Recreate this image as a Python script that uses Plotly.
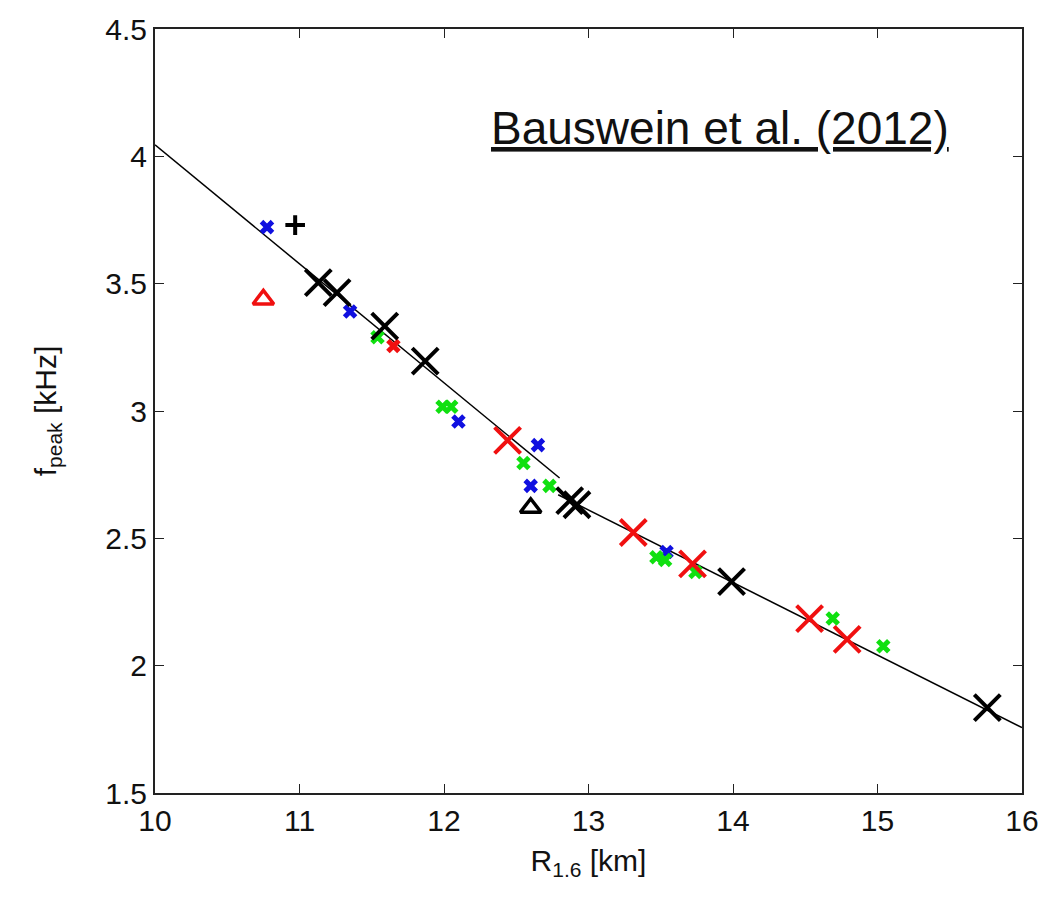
import plotly.graph_objects as go

# Fit lines (two segments)
fit1_x = [10.0, 12.80]
fit1_y = [4.045, 2.737]
fit2_x = [12.79, 16.0]
fit2_y = [2.671, 1.757]

# Large black crosses
blackX_x = [11.13, 11.26, 11.59, 11.87, 12.87, 12.92, 13.99, 15.76]
blackX_y = [3.504, 3.465, 3.333, 3.196, 2.648, 2.632, 2.330, 1.835]

# Large red crosses
redX_x = [12.44, 13.31, 13.72, 14.53, 14.79]
redX_y = [2.885, 2.523, 2.400, 2.185, 2.103]

# Small blue crosses
blue_x = [10.775, 11.35, 12.10, 12.65, 12.60, 13.54]
blue_y = [3.722, 3.391, 2.959, 2.866, 2.706, 2.446]

# Small green crosses
green_x = [11.54, 11.99, 12.05, 12.55, 12.73, 13.47, 13.53, 13.74, 14.69, 15.04]
green_y = [3.290, 3.017, 3.017, 2.796, 2.706, 2.426, 2.415, 2.368, 2.185, 2.076]

# Small red cross
redsmall_x = [11.65]
redsmall_y = [3.255]

# Black plus
plus_x = [10.97]
plus_y = [3.73]

# Triangles
tri_red_x = [10.75]
tri_red_y = [3.438]
tri_black_x = [12.60]
tri_black_y = [2.62]

FONT = "Liberation Sans, Arial, sans-serif"

fig = go.Figure()
for fx, fy in [(fit1_x, fit1_y), (fit2_x, fit2_y)]:
    fig.add_trace(go.Scatter(x=fx, y=fy, mode="lines",
                             line=dict(color="black", width=1.5), showlegend=False))

def small(xs, ys, color):
    fig.add_trace(go.Scatter(x=xs, y=ys, mode="markers", showlegend=False,
                             marker=dict(symbol="x-thin", size=11, color=color,
                                         line=dict(color=color, width=5))))

small(blue_x, blue_y, "#1010e0")
small(green_x, green_y, "#10e010")
small(redsmall_x, redsmall_y, "#f01010")

fig.add_trace(go.Scatter(x=plus_x, y=plus_y, mode="markers", showlegend=False,
                         marker=dict(symbol="cross-thin", size=14, color="black",
                                     line=dict(color="black", width=4))))

def big(xs, ys, color):
    fig.add_trace(go.Scatter(x=xs, y=ys, mode="markers", showlegend=False,
                             marker=dict(symbol="x-thin", size=26, color=color,
                                         line=dict(color=color, width=4))))

big(redX_x, redX_y, "#f01010")
big(blackX_x, blackX_y, "black")

for xs, ys, c in [(tri_red_x, tri_red_y, "#f01010"), (tri_black_x, tri_black_y, "black")]:
    fig.add_trace(go.Scatter(x=xs, y=ys, mode="markers", showlegend=False,
                             marker=dict(symbol="triangle-up-open", size=18, color=c,
                                         line=dict(color=c, width=3.5))))

axis_common = dict(showgrid=False, zeroline=False, showline=True, linecolor="#222222",
                   linewidth=2, mirror="ticks", ticks="inside", ticklen=9,
                   tickcolor="#222222", tickwidth=1.2,
                   tickfont=dict(family=FONT, size=30, color="#111111"))

fig.update_layout(
    width=1062, height=909,
    margin=dict(l=155, r=40, t=22, b=116),
    paper_bgcolor="white", plot_bgcolor="white",
    xaxis=dict(range=[10, 16], tickvals=[10, 11, 12, 13, 14, 15, 16],
               title=dict(text="R<sub>1.6</sub> [km]", standoff=14,
                          font=dict(family=FONT, size=30, color="#111111")),
               **axis_common),
    yaxis=dict(range=[1.5, 4.5], tickvals=[1.5, 2, 2.5, 3, 3.5, 4, 4.5],
               ticktext=["1.5", "2", "2.5", "3", "3.5", "4", "4.5"],
               title=dict(text="f<sub>peak</sub> [kHz]", standoff=40,
                          font=dict(family=FONT, size=30, color="#111111")),
               **axis_common),
    annotations=[dict(text="<u>Bauswein et al. (2012)</u>", x=0.918, y=0.870,
                      xref="paper", yref="paper", xanchor="right", yanchor="middle",
                      showarrow=False,
                      font=dict(family=FONT, size=46, color="#111111"))],
)

fig.write_html("out.html")
